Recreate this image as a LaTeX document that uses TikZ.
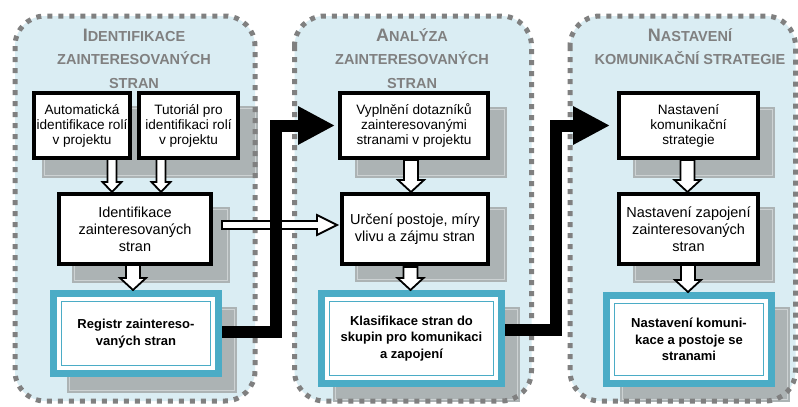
\documentclass[tikz,border=0pt]{standalone}
\usepackage{fontspec}
\setmainfont{Liberation Sans}
\usetikzlibrary{arrows.meta,calc}
\definecolor{panelfill}{RGB}{218,237,243}
\definecolor{dotgray}{RGB}{128,128,128}
\definecolor{tealc}{RGB}{75,172,198}
\definecolor{shfill}{RGB}{172,179,180}
\definecolor{shline}{RGB}{205,210,211}
\definecolor{titlegray}{RGB}{128,128,128}
\newcommand\shadowrect[4]{%
  \fill[shfill] (#1,#2) rectangle (#3,#4);
  \draw[shline, line width=0.9pt] (#1+2.5,#2+2.5) rectangle (#3-2.5,#4-2.5);}
\newcommand\bigL[1]{{\fontsize{18}{23.5}\selectfont #1}}
\tikzset{
  panelfillst/.style={fill=panelfill, rounded corners=30pt},
  panelborder/.style={draw=dotgray, line width=5pt, dash pattern=on 5pt off 6pt, rounded corners=30pt},
  wbox/.style={draw=black, fill=white, line width=4pt, align=center, inner sep=0pt},
  toprow/.style={wbox, font=\fontsize{13.6}{15}\selectfont},
  midrow/.style={wbox, font=\fontsize{14.5}{17}\selectfont},
  tbox/.style={draw=tealc, fill=white, line width=7pt, align=center, inner sep=0pt,
    font=\fontsize{13}{16.5}\selectfont\bfseries},
  ttl/.style={text=titlegray, font=\fontsize{14.5}{23.5}\selectfont\bfseries, anchor=base, inner sep=0pt},
  harrow/.style={draw=black, fill=white, line width=1.8pt, line join=miter},
  conn/.style={draw=black, line width=12pt, line join=miter,
    -{Triangle[length=37pt,width=36pt]}},
  pics/downarr/.style n args={4}{code={
    \draw[harrow] (-#2,-#1) -- (-#2,-#4) -- (-#3,-#4) -- (0,0)
      -- (#3,-#4) -- (#2,-#4) -- (#2,-#1) -- cycle;}}
}
\begin{document}
\begin{tikzpicture}[x=1pt,y=-1pt]
\useasboundingbox (0,0) rectangle (798,407);
\fill[white] (0,0) rectangle (798,407);
% panels fill
\fill[panelfillst] (15,16) rectangle (255,401);
\fill[panelfillst] (294.5,16) rectangle (531.5,401);
\fill[panelfillst] (570,16) rectangle (795.5,401);
% shadows
\shadowrect{42}{106}{258}{178}
\shadowrect{72}{207}{230}{283}
\shadowrect{67}{307}{237}{393}
\shadowrect{355}{107}{507}{178}
\shadowrect{355}{207}{507}{282}
\shadowrect{333}{307}{520}{402}
\shadowrect{633}{107}{775}{178}
\shadowrect{633}{207}{775}{283}
\shadowrect{620}{307}{790}{402}
% panel borders
\draw[panelborder] (15,16) rectangle (255,401);
\draw[panelborder] (294.5,16) rectangle (531.5,401);
\draw[panelborder] (570,16) rectangle (795.5,401);
% titles
\node[ttl] (t1a) at (134,41) {\bigL{I}DENTIFIKACE};
\node[ttl] (t1b) at (134,64.5) {ZAINTERESOVANÝCH};
\node[ttl] (t1c) at (134,88) {STRAN};
\node[ttl] (t2a) at (412,41) {\bigL{A}NALÝZA};
\node[ttl] (t2b) at (412,64.5) {ZAINTERESOVANÝCH};
\node[ttl] (t2c) at (412,88) {STRAN};
\node[ttl] (t3a) at (690,41) {\bigL{N}ASTAVENÍ};
\node[ttl] (t3b) at (690,64.5) {KOMUNIKAČNÍ STRATEGIE};
% boxes
\node[toprow, minimum width=96pt, minimum height=65pt] (A) at (82,125.5)
  {Automatická\\identifikace rolí\\v projektu};
\node[toprow, minimum width=99pt, minimum height=65pt] (T) at (188.5,125.5)
  {Tutoriál pro\\identifikaci rolí\\v projektu};
\node[midrow, minimum width=152pt, minimum height=70pt] (Id) at (135,229)
  {Identifikace\\zainteresovaných\\stran};
\node[tbox, minimum width=165pt, minimum height=80pt] (Reg) at (136,333.5)
  {Registr zaintereso-\\vaných stran};
\node[toprow, minimum width=148pt, minimum height=65pt] (V) at (414,125.5)
  {Vyplnění dotazníků\\zainteresovanými\\stranami v projektu};
\node[midrow, minimum width=146pt, minimum height=70pt] (U) at (415,229)
  {Určení postoje, míry\\vlivu a zájmu stran};
\node[tbox, minimum width=180pt, minimum height=90pt] (K) at (411.5,338.5)
  {Klasifikace stran do\\skupin pro komunikaci\\a zapojení};
\node[toprow, minimum width=139pt, minimum height=65pt] (N) at (688.5,125.5)
  {Nastavení\\komunikační\\strategie};
\node[midrow, minimum width=139pt, minimum height=70pt] (Z) at (688.5,229)
  {Nastavení zapojení\\zainteresovaných\\stran};
\node[tbox, minimum width=165pt, minimum height=88pt] (NK) at (689,339.5)
  {Nastavení komuni-\\kace a postoje se\\stranami};
% teal inner lines
\foreach \b in {Reg,K,NK}{
  \draw[tealc, line width=1.6pt] ([shift={(11.5,11.5)}]\b.north west) rectangle ([shift={(-11.5,-11.5)}]\b.south east);
}
% hollow horizontal arrow
\coordinate (h0) at ([xshift=9pt,yshift=4pt]Id.east);
\coordinate (h1) at ([xshift=-3pt]U.west |- h0);
\draw[harrow] ([yshift=4pt]h0) -- ([yshift=4pt,xshift=-20pt]h1) -- ([yshift=10pt,xshift=-20pt]h1)
  -- (h1) -- ([yshift=-10pt,xshift=-20pt]h1) -- ([yshift=-4pt,xshift=-20pt]h1)
  -- ([yshift=-4pt]h0) -- cycle;
% black connectors
\coordinate (j1) at (276,0);
\coordinate (j2) at (556,0);
\draw[conn, shorten >=3pt] ([yshift=1.5pt]Reg.east) -| (j1 |- V.west) -- (V.west);
\draw[conn, shorten >=7pt] ([yshift=8.5pt]K.east) -| (j2 |- N.west) -- (N.west);
% down arrows
\pic at ([xshift=-23pt]Id.north) {downarr={33}{4.5}{9.5}{10}};
\pic at ([xshift=26pt]Id.north) {downarr={33}{4.5}{9.5}{10}};
\pic at ([xshift=-3pt]Reg.north) {downarr={25}{7}{13}{12}};
\pic at ([xshift=-4pt]U.north) {downarr={32}{7}{13}{12}};
\pic at ([xshift=-1pt]K.north) {downarr={23}{7}{13}{12}};
\pic at ([xshift=-1pt]Z.north) {downarr={32}{7}{13}{12}};
\pic at ([xshift=-1pt]NK.north) {downarr={27}{7}{13}{12}};
\end{tikzpicture}
\end{document}
